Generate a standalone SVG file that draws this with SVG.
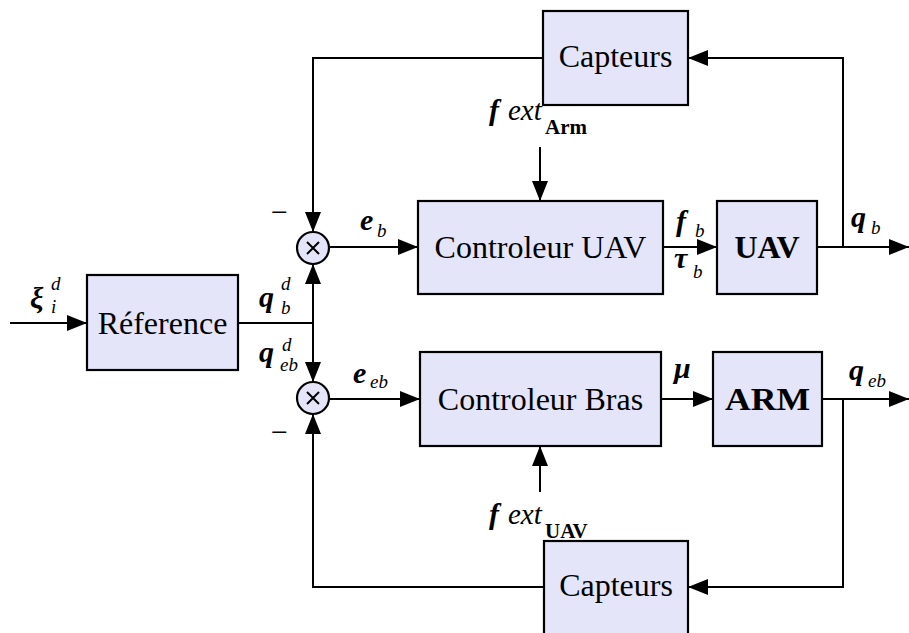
<svg xmlns="http://www.w3.org/2000/svg" width="909" height="633" viewBox="0 0 909 633">
<defs>
<style>
.box{fill:#e5e5fa;stroke:#000;stroke-width:2.2}
.ln{fill:none;stroke:#000;stroke-width:2}
.arr{marker-end:url(#ah)}
text{font-family:'Liberation Serif','Times New Roman',serif;fill:#000}
.t{font-size:32px}
.tb{font-size:32px;font-weight:bold}
.m{font-size:30px;font-weight:bold;font-style:italic}
.s{font-size:19px;font-style:italic}
.sb{font-size:21px;font-weight:bold}
.mi{font-size:29px;font-style:italic}
.minus{font-size:30px}
</style>
<marker id="ah" markerUnits="userSpaceOnUse" markerWidth="20" markerHeight="16" refX="20" refY="8" orient="auto">
<path d="M0,0 L20,8 L0,16 z" fill="#000"/>
</marker>
</defs>

<g id="connectors">
<path class="ln arr" d="M10,323 H87"/>
<path class="ln" d="M238,323 H313"/>
<path class="ln arr" d="M313,323 V264"/>
<path class="ln arr" d="M313,323 V382"/>
<path class="ln arr" d="M543,58 H313 V232"/>
<path class="ln arr" d="M544,587 H313 V414"/>
<path class="ln arr" d="M329,247 H418"/>
<path class="ln arr" d="M329,399 H420"/>
<path class="ln arr" d="M663,247 H717"/>
<path class="ln arr" d="M661,399 H713"/>
<path class="ln arr" d="M817,247 H909"/>
<path class="ln arr" d="M822,399 H909"/>
<path class="ln arr" d="M843,247 V58 H688"/>
<path class="ln arr" d="M843,399 V587 H688"/>
<path class="ln arr" d="M540,147 V201"/>
<path class="ln arr" d="M540,492 V446"/>
</g>

<g id="capteurs-top">
<rect class="box" x="543" y="11" width="145" height="94"/>
<text class="t" x="615.5" y="67" text-anchor="middle">Capteurs</text>
</g>
<g id="reference">
<rect class="box" x="87" y="275" width="151" height="95"/>
<text class="t" x="162.5" y="334" text-anchor="middle">Réference</text>
</g>
<g id="sum-top">
<circle class="box" cx="313" cy="248" r="16"/>
<path class="ln" d="M307,242 L319,254 M319,242 L307,254" stroke-width="1.5"/>
</g>
<g id="sum-bottom">
<circle class="box" cx="313" cy="398" r="16"/>
<path class="ln" d="M307,392 L319,404 M319,392 L307,404" stroke-width="1.5"/>
</g>
<g id="controleur-uav">
<rect class="box" x="418" y="201" width="245" height="93"/>
<text class="t" x="540.5" y="258" text-anchor="middle">Controleur UAV</text>
</g>
<g id="uav">
<rect class="box" x="717" y="201" width="100" height="93"/>
<text class="tb" x="767" y="258" text-anchor="middle">UAV</text>
</g>
<g id="controleur-bras">
<rect class="box" x="420" y="352" width="241" height="94"/>
<text class="t" x="540.5" y="410" text-anchor="middle">Controleur Bras</text>
</g>
<g id="arm">
<rect class="box" x="713" y="352" width="109" height="94"/>
<text class="tb" x="767.5" y="410" text-anchor="middle" textLength="85" lengthAdjust="spacingAndGlyphs">ARM</text>
</g>
<g id="capteurs-bottom">
<rect class="box" x="544" y="541" width="144" height="96"/>
<text class="t" x="616" y="596" text-anchor="middle">Capteurs</text>
</g>

<g id="labels">
<text class="m" x="30" y="308">ξ</text><text class="s" x="51" y="290">d</text><text class="s" x="51" y="313">i</text>
<text class="m" x="259" y="307">q</text><text class="s" x="281" y="290">d</text><text class="s" x="281" y="314">b</text>
<text class="m" x="259" y="362">q</text><text class="s" x="282" y="351">d</text><text class="s" x="280" y="371">eb</text>
<text class="minus" x="271" y="222">−</text>
<text class="minus" x="271" y="442">−</text>
<text class="m" x="360" y="230">e</text><text class="s" x="377" y="237">b</text>
<text class="m" x="353" y="383">e</text><text class="s" x="370" y="388">eb</text>
<text class="m" x="676" y="231">f</text><text class="s" x="695" y="237">b</text>
<text class="m" x="674" y="268">τ</text><text class="s" x="693" y="278">b</text>
<text class="m" x="674" y="378">μ</text>
<text class="m" x="851" y="227">q</text><text class="s" x="871" y="234">b</text>
<text class="m" x="849" y="380">q</text><text class="s" x="868" y="387">eb</text>
<text class="m" x="489" y="120">f</text><text class="mi" x="508" y="120">ext</text><text class="sb" x="545" y="134">Arm</text>
<text class="m" x="489" y="524">f</text><text class="mi" x="508" y="524">ext</text><text class="sb" x="545" y="538">UAV</text>
</g>
</svg>
